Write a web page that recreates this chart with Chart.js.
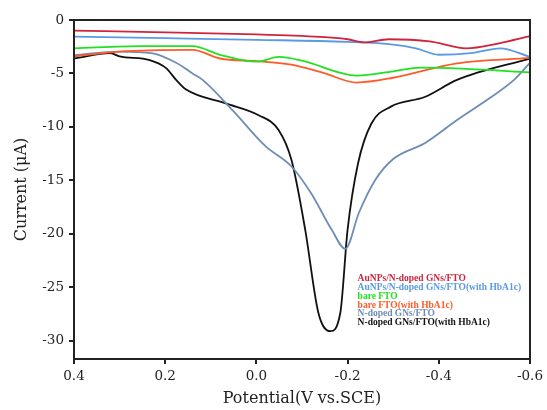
<!DOCTYPE html>
<html>
<head>
<meta charset="utf-8">
<script src="https://cdn.jsdelivr.net/npm/chart.js@4/dist/chart.umd.min.js"></script>
<style>
  html, body { margin: 0; padding: 0; background: #fff; }
</style>
</head>
<body>
<canvas id="chart" width="547" height="410"></canvas>
<script>
// potential (V vs SCE) and current (uA) for each curve
const potAuN = [0.4, 0.2, 0.0, -0.15, -0.2, -0.235, -0.29, -0.38, -0.46, -0.53, -0.6];
const curAuN = [-1.0, -1.15, -1.35, -1.6, -1.8, -2.1, -1.8, -2.0, -2.65, -2.2, -1.5];

const potAuNHb = [0.4, 0.2, 0.0, -0.2, -0.3, -0.35, -0.4, -0.47, -0.535, -0.6];
const curAuNHb = [-1.56, -1.7, -1.85, -2.05, -2.3, -2.65, -3.25, -3.1, -2.65, -3.45];

const potBare = [0.4, 0.25, 0.14, 0.08, 0.0, -0.05, -0.1, -0.22, -0.3, -0.36, -0.45, -0.6];
const curBare = [-2.65, -2.45, -2.45, -3.25, -3.9, -3.45, -3.8, -5.2, -4.8, -4.45, -4.55, -4.9];

const potBareHb = [0.4, 0.3, 0.14, 0.08, 0.0, -0.08, -0.15, -0.22, -0.3, -0.44, -0.6];
const curBareHb = [-3.4, -2.95, -2.8, -3.6, -3.85, -4.2, -5.0, -5.85, -5.4, -4.05, -3.55];

const potNG = [0.4, 0.3, 0.23, 0.176, 0.14, 0.118, 0.053, -0.02, -0.077, -0.12, -0.165, -0.195, -0.225, -0.26, -0.3, -0.37, -0.44, -0.515, -0.565, -0.6];
const curNG = [-3.3, -2.95, -3.1, -4.0, -5.0, -5.6, -8.4, -11.8, -13.7, -16.2, -19.6, -21.4, -18.0, -15.0, -13.0, -11.5, -9.35, -7.2, -5.6, -4.0];

const potNGHb = [0.4, 0.32, 0.3, 0.234, 0.198, 0.176, 0.154, 0.067, -0.005, -0.049, -0.077, -0.107, -0.136, -0.162, -0.184, -0.2, -0.223, -0.252, -0.295, -0.369, -0.44, -0.6];
const curNGHb = [-3.6, -3.1, -3.4, -3.75, -4.5, -5.6, -6.5, -7.8, -8.9, -10.3, -13.1, -19.6, -27.4, -29.1, -27.4, -19.6, -13.4, -9.7, -8.1, -7.2, -5.6, -3.6];

const seriesNames = [
  'AuNPs/N-doped GNs/FTO',
  'AuNPs/N-doped GNs/FTO(with HbA1c)',
  'bare FTO',
  'bare FTO(with HbA1c)',
  'N-doped GNs/FTO',
  'N-doped GNs/FTO(with HbA1c)'
];
const seriesColors = ['#d0243c', '#5a9ae4', '#22e022', '#ff5a28', '#6e8db6', '#111111'];

const xTicks = [0.4, 0.2, 0.0, -0.2, -0.4, -0.6];
const yTicks = [0, -5, -10, -15, -20, -25, -30];

const allPot = [potAuN, potAuNHb, potBare, potBareHb, potNG, potNGHb];
const allCur = [curAuN, curAuNHb, curBare, curBareHb, curNG, curNGHb];

const datasets = seriesNames.map((name, i) => ({
  label: name,
  data: allPot[i].map((p, j) => ({x: p, y: allCur[i][j]})),
  borderColor: seriesColors[i],
  borderWidth: 1.8,
  pointRadius: 0,
  fill: false,
  cubicInterpolationMode: 'monotone'
}));

const serif = "'DejaVu Serif', 'Liberation Serif', serif";

// frame round the plot area
const framePlugin = {
  id: 'frame',
  afterDraw(chart) {
    const a = chart.chartArea;
    const ctx = chart.ctx;
    ctx.save();
    ctx.strokeStyle = '#222';
    ctx.lineWidth = 2;
    ctx.strokeRect(a.left, a.top, a.right - a.left, a.bottom - a.top);
    ctx.restore();
  }
};

// text legend inside the plot
const legendText = {
  id: 'legendText',
  afterDraw(chart) {
    const a = chart.chartArea;
    const ctx = chart.ctx;
    ctx.save();
    ctx.font = "bold 9.5px 'Liberation Serif', serif";
    ctx.textBaseline = 'middle';
    const x0 = a.left + 0.622 * (a.right - a.left);
    let y = 279;
    chart.data.datasets.forEach(ds => {
      ctx.fillStyle = ds.borderColor;
      ctx.fillText(ds.label, x0, y);
      y += 8.7;
    });
    ctx.restore();
  }
};

new Chart(document.getElementById('chart'), {
  type: 'line',
  data: {datasets},
  plugins: [framePlugin, legendText],
  options: {
    responsive: false,
    animation: false,
    devicePixelRatio: 1,
    layout: {padding: {left: 0, right: 14, top: 20, bottom: 0}},
    plugins: {legend: {display: false}, tooltip: {enabled: false}},
    scales: {
      x: {
        type: 'linear',
        reverse: true,
        min: -0.6,
        max: 0.4,
        afterBuildTicks: axis => { axis.ticks = xTicks.map(v => ({value: v})); },
        afterFit: axis => { axis.height = 51; },
        grid: {drawOnChartArea: false, drawTicks: true, tickLength: 5, color: '#222', lineWidth: 2},
        border: {display: true, color: '#222', width: 2},
        ticks: {
          callback: v => v.toFixed(1),
          font: {family: serif, size: 13.5},
          color: '#222',
          padding: 4,
          maxRotation: 0
        },
        title: {
          display: true,
          text: 'Potential(V vs.SCE)',
          font: {family: serif, size: 16},
          color: '#222',
          padding: {top: 0, bottom: 2}
        }
      },
      y: {
        type: 'linear',
        min: -31.7,
        max: 0,
        afterBuildTicks: axis => { axis.ticks = yTicks.map(v => ({value: v})); },
        afterFit: axis => { axis.width = 74; },
        grid: {drawOnChartArea: false, drawTicks: true, tickLength: 5, color: '#222', lineWidth: 2},
        border: {display: true, color: '#222', width: 2},
        ticks: {
          font: {family: serif, size: 13.5},
          color: '#222',
          padding: 5
        },
        title: {
          display: true,
          text: 'Current (\u03bcA)',
          font: {family: serif, size: 16},
          color: '#222',
          padding: {top: 12, bottom: 0}
        }
      }
    }
  }
});
</script>
</body>
</html>
